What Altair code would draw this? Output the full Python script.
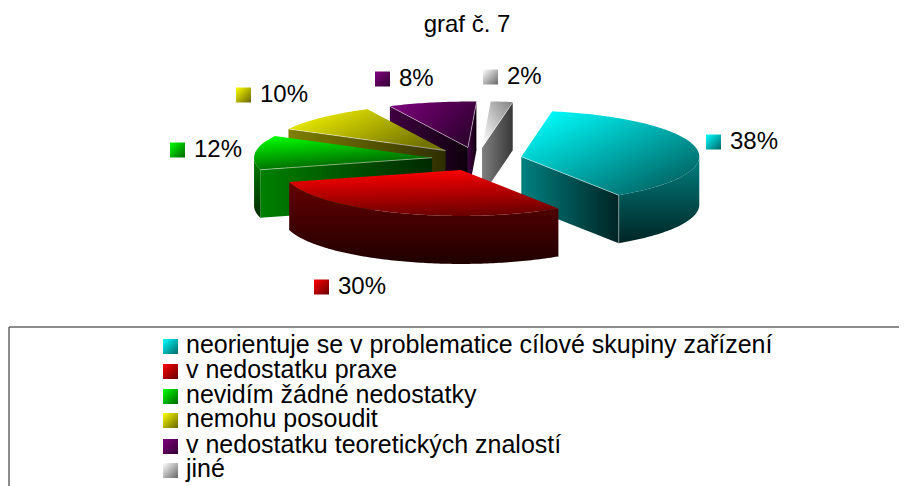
import math
import altair as alt

title_text = "graf č. 7"
categories = ["neorientuje se v problematice cílové skupiny zařízení", "v nedostatku praxe",
              "nevidím žádné nedostatky", "nemohu posoudit",
              "v nedostatku teoretických znalostí", "jiné"]
shares = [38, 30, 12, 10, 8, 2]
colors = [(0, 255, 255), (255, 0, 0), (0, 255, 0), (255, 255, 0), (128, 0, 128), (255, 255, 255)]
# direction of each top-face gradient
top_dirs = [(0.1, 0, 0.9, 0.8), (0.35, 0, 0.5, 1), (0.1, 0, 0.5, 1), (0, 0, 1, 0.6), (0, 0, 1, 0.5), (0, 0.9, 1, 0)]
top_dark = [0.42, 0.42, 0.35, 0.45, 0.4, 0.5]
wall_f = [(0.5, 0.14), (0.4, 0.12), (0.5, 0.16), (0.5, 0.18), (0.5, 0.1), (0.5, 0.22)]
# label anchor (swatch left, swatch centre y) for every slice
label_pos = [(706, 142), (314, 287), (170, 150), (236, 95), (375, 79), (483, 77)]
legend_y = [346.5, 371.5, 396.5, 420.5, 446.5, 470.5]

OX, OY = 8, 8
CX, CY, RX, RY, DEPTH, EXPLODE, START = 477, 159, 178, 46, 48, 0.254, 10


def hexc(c, f):
    return "#%02x%02x%02x" % tuple(int(round(v * f)) for v in c)


def grad(c, f1, f2, d):
    return alt.Gradient(gradient="linear",
                        stops=[alt.GradientStop(color=hexc(c, f1), offset=0),
                               alt.GradientStop(color=hexc(c, f2), offset=1)],
                        x1=d[0], y1=d[1], x2=d[2], y2=d[3])


def poly(points, fill):
    ring = [[x - OX, y - OY] for x, y in points]
    ring.append(ring[0])
    feat = {"type": "Feature", "properties": {}, "geometry": {"type": "Polygon", "coordinates": [ring]}}
    return alt.Chart(alt.Data(values=[feat])).mark_geoshape(fill=fill, strokeWidth=0).project(
        type="identity", scale=1, translate=[0, 0])


def polyline(points, opacity):
    line = [[x - OX, y - OY] for x, y in points]
    feat = {"type": "Feature", "properties": {}, "geometry": {"type": "LineString", "coordinates": line}}
    return alt.Chart(alt.Data(values=[feat])).mark_geoshape(
        filled=False, stroke="#ffffff", strokeWidth=0.8, strokeOpacity=opacity).project(
        type="identity", scale=1, translate=[0, 0])


def rule(x, x2, y, y2):
    return alt.Chart(alt.Data(values=[{}])).mark_rule(color="#666666", strokeWidth=1.5).encode(
        x=alt.value(x - OX), x2=alt.value(x2 - OX), y=alt.value(y - OY), y2=alt.value(y2 - OY))


def text(s, x, y, size, align="left"):
    return alt.Chart(alt.Data(values=[{"t": s}])).mark_text(
        font="Liberation Sans", fontSize=size, align=align, baseline="middle", color="#000000").encode(
        x=alt.value(x - OX), y=alt.value(y - OY), text="t:N")


def swatch(c, x, yc):
    s = 15
    return poly([(x, yc - s / 2), (x + s, yc - s / 2), (x + s, yc + s / 2), (x, yc + s / 2)],
                grad(c, 1, 0.4, (0, 0, 1, 1)))


def pt(t, ax, ay, dz=0):
    r = math.radians(t)
    return (ax + RX * math.sin(r), ay - RY * math.cos(r) + dz)


def arc(a, b):
    n = max(2, int(b - a) + 1)
    return [a + (b - a) * k / n for k in range(n + 1)]


slices = []
angle = START
for i, v in enumerate(shares):
    a, b = angle, angle + v * 3.6
    angle = b
    m = math.radians((a + b) / 2)
    ax, ay = CX + RX * EXPLODE * math.sin(m), CY - RY * EXPLODE * math.cos(m)
    slices.append((ay, i, a, b, ax, ay))
slices.sort()

layers = [rule(9, 899, 327, 327), rule(9, 9, 327, 486)]
for _, i, a, b, ax, ay in slices:
    c = colors[i]
    f1, f2 = wall_f[i]
    lines = []
    # radial walls facing the viewer
    if math.sin(math.radians(a)) < 0:
        o = pt(a, ax, ay)
        layers.append(poly([o, (ax, ay), (ax, ay + DEPTH), (o[0], o[1] + DEPTH)], grad(c, f1, f2, (0, 0, 1, 0))))
        lines.append(polyline([o, (ax, ay)], 0.6))
    if math.sin(math.radians(b)) > 0:
        o = pt(b, ax, ay)
        layers.append(poly([(ax, ay), o, (o[0], o[1] + DEPTH), (ax, ay + DEPTH)], grad(c, f1, f2, (0, 0, 1, 0))))
        lines.append(polyline([(ax, ay), o], 0.6))
        lines.append(polyline([o, (o[0], o[1] + DEPTH)], 0.5))
    # outer rim, the part turned to the viewer
    ra, rb = max(a, 90), min(b, 270)
    if ra < rb:
        ts = arc(ra, rb)
        upper = [pt(t, ax, ay) for t in ts]
        lower = [pt(t, ax, ay, DEPTH) for t in reversed(ts)]
        layers.append(poly(upper + lower, grad(c, f1, f2, (0, 0, 0, 1))))
    # top face
    top = [(ax, ay)] + [pt(t, ax, ay) for t in arc(a, b)]
    layers.append(poly(top, grad(c, 1, top_dark[i], top_dirs[i])))
    layers.extend(lines)

layers.append(text(title_text, 467, 25, 24, "center"))
for i, v in enumerate(shares):
    lx, ly = label_pos[i]
    layers.append(swatch(colors[i], lx, ly))
    layers.append(text(f"{v}%", lx + 24, ly, 24))
for i, name in enumerate(categories):
    layers.append(swatch(colors[i], 163, legend_y[i]))
    layers.append(text(name, 186, legend_y[i] - 2, 25))

chart = alt.layer(*layers).properties(width=892, height=478, padding=0, background="#ffffff").configure_view(stroke=None)
chart.save("out.html", embed_options={"renderer": "svg", "actions": False})
